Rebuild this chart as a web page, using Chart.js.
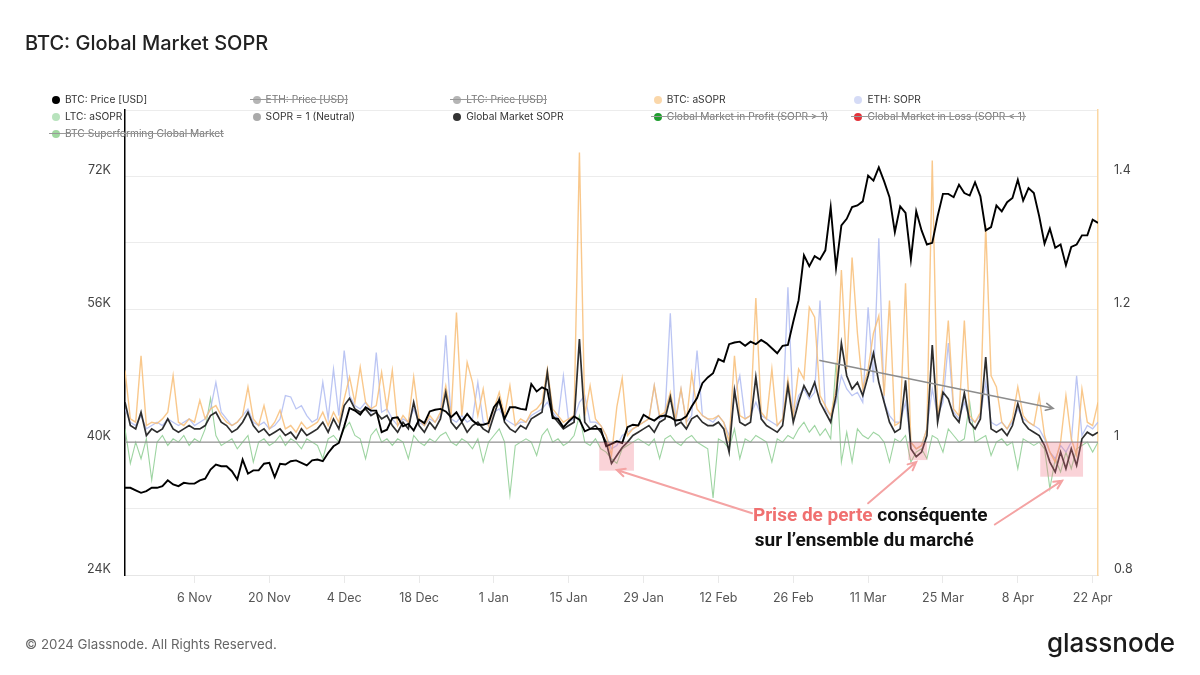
<!DOCTYPE html>
<html>
<head>
<meta charset="utf-8">
<script src="https://cdn.jsdelivr.net/npm/chart.js@4.4.1/dist/chart.umd.min.js"></script>
<style>
html, body { margin: 0; padding: 0; background: #fff; }
#wrap { position: relative; width: 1200px; height: 675px; overflow: hidden; font-family: Inter, "Noto Sans", sans-serif; }
canvas { position: absolute; left: 0; top: 0; }
#title { position: absolute; left: 25px; top: 31px; font-size: 20px; font-weight: 500; color: #222; }
#foot { position: absolute; left: 25px; top: 636px; font-size: 13.3px; color: #666; }
#logo { position: absolute; right: 25px; top: 627px; font-size: 26px; font-weight: 500; color: #1b1b1b; }
.lg { position: absolute; font-size: 10.2px; color: #333; white-space: nowrap; line-height: 14px; }
.lg i { display: inline-block; width: 8px; height: 8px; border-radius: 50%; margin-right: 5px; vertical-align: -0.5px; }
.lg.off { color: #777; }
.lg.off::after { content: ''; position: absolute; left: -3px; right: 0; top: 7px; border-top: 1px solid #999; }
</style>
</head>
<body>
<div id="wrap">
    <canvas id="chart" width="1200" height="675"></canvas>
    <div id="title">BTC: Global Market SOPR</div>
    <div id="legend"></div>
    <div id="foot">© 2024 Glassnode. All Rights Reserved.</div>
    <div id="logo">glassnode</div>
</div>
<script>
// Daily series, day 0 = 24 Oct 2023 ... day 182 = 23 Apr 2024

// BTC: Price [USD], in thousands
var btcPrice = [
    34.5, 34.5, 34.2, 33.9, 34.1, 34.5, 34.5, 34.7, 35.4, 34.9,
    34.7, 35.1, 35.0, 35.0, 35.4, 35.6, 36.7, 37.3, 37.1, 37.1,
    36.5, 35.5, 37.9, 36.2, 36.6, 36.6, 37.4, 37.5, 35.8, 37.4,
    37.3, 37.7, 37.8, 37.5, 37.2, 37.8, 37.9, 37.7, 38.7, 39.5,
    39.9, 41.9, 44.1, 43.8, 43.3, 44.2, 43.8, 43.8, 41.2, 41.5,
    42.9, 43.0, 41.9, 42.2, 41.4, 42.7, 42.3, 43.7, 43.9, 44.0,
    43.7, 43.0, 43.6, 42.5, 43.4, 42.6, 42.1, 42.1, 42.3, 44.2,
    45.0, 42.8, 44.2, 44.2, 44.0, 43.9, 47.0, 46.1, 46.6, 46.3,
    42.9, 42.8, 41.8, 42.5, 43.1, 42.7, 41.3, 41.6, 41.6, 41.6,
    39.5, 39.8, 40.1, 39.9, 41.8, 42.1, 42.0, 43.3, 42.9, 42.6,
    43.1, 43.2, 43.0, 42.6, 42.7, 43.1, 44.3, 45.3, 47.1, 47.8,
    48.3, 50.0, 49.7, 51.8, 52.0, 52.1, 51.6, 52.1, 51.8, 52.3,
    51.9, 51.3, 50.7, 51.6, 51.7, 54.5, 57.1, 62.5, 61.2, 62.4,
    62.0, 63.1, 68.3, 61.0, 66.1, 66.9, 68.3, 68.5, 69.0, 72.1,
    71.5, 73.1, 71.4, 69.5, 65.3, 68.4, 67.6, 62.0, 67.8, 65.5,
    63.8, 64.0, 67.2, 69.9, 69.9, 69.5, 71.0, 70.0, 69.7, 71.3,
    69.6, 65.5, 65.9, 68.5, 67.8, 68.9, 69.4, 71.6, 69.1, 70.6,
    70.0, 67.2, 63.9, 65.7, 63.4, 63.8, 61.3, 63.5, 63.8, 64.9,
    64.9, 66.8, 66.4
];

// Global Market SOPR
var globalSopr = [
    1.060, 1.025, 1.020, 1.045, 1.010, 1.020, 1.015, 1.020, 1.035, 1.020,
    1.015, 1.020, 1.025, 1.020, 1.020, 1.025, 1.040, 1.045, 1.030, 1.025,
    1.015, 1.020, 1.030, 1.045, 1.025, 1.015, 1.020, 1.010, 1.015, 1.020,
    1.010, 1.015, 1.005, 1.020, 1.010, 1.015, 1.020, 1.030, 1.015, 1.035,
    1.020, 1.055, 1.066, 1.050, 1.045, 1.050, 1.040, 1.045, 1.035, 1.040,
    1.025, 1.015, 1.030, 1.020, 1.060, 1.025, 1.015, 1.030, 1.020, 1.035,
    1.075, 1.030, 1.020, 1.030, 1.015, 1.025, 1.030, 1.020, 1.015, 1.040,
    1.065, 1.030, 1.020, 1.015, 1.025, 1.020, 1.035, 1.040, 1.045, 1.105,
    1.040, 1.030, 1.020, 1.025, 1.030, 1.155, 1.030, 1.020, 1.025, 1.015,
    1.000, 0.968, 0.980, 0.992, 1.000, 1.010, 1.015, 1.020, 1.025, 1.015,
    1.030, 1.035, 1.068, 1.025, 1.030, 1.020, 1.035, 1.040, 1.030, 1.025,
    1.025, 1.030, 1.020, 0.985, 1.078, 1.030, 1.025, 1.030, 1.098, 1.035,
    1.025, 1.020, 1.015, 1.025, 1.085, 1.030, 1.060, 1.085, 1.070, 1.090,
    1.060, 1.045, 1.030, 1.070, 1.149, 1.100, 1.080, 1.090, 1.070, 1.100,
    1.134, 1.090, 1.060, 1.030, 1.015, 1.020, 1.093, 0.990, 0.978, 0.985,
    1.010, 1.146, 1.030, 1.075, 1.065, 1.040, 1.030, 1.074, 1.030, 1.020,
    1.035, 1.128, 1.020, 1.015, 1.020, 1.010, 1.025, 1.058, 1.030, 1.020,
    1.015, 1.010, 0.995, 0.970, 0.955, 0.985, 0.960, 0.990, 0.965, 1.005,
    1.015, 1.010, 1.015
];

// BTC: aSOPR
var btcAsopr = [
    1.108, 1.035, 1.030, 1.130, 1.025, 1.030, 1.028, 1.035, 1.045, 1.100,
    1.030, 1.025, 1.035, 1.030, 1.063, 1.035, 1.050, 1.055, 1.040, 1.030,
    1.025, 1.030, 1.040, 1.083, 1.035, 1.025, 1.055, 1.020, 1.030, 1.048,
    1.020, 1.025, 1.015, 1.030, 1.020, 1.025, 1.030, 1.045, 1.025, 1.045,
    1.030, 1.065, 1.098, 1.060, 1.113, 1.060, 1.050, 1.055, 1.105, 1.050,
    1.108, 1.025, 1.040, 1.030, 1.098, 1.035, 1.025, 1.040, 1.030, 1.045,
    1.085, 1.040, 1.195, 1.040, 1.120, 1.090, 1.040, 1.080, 1.025, 1.050,
    1.075, 1.040, 1.085, 1.025, 1.035, 1.030, 1.045, 1.050, 1.060, 1.110,
    1.050, 1.040, 1.030, 1.035, 1.040, 1.436, 1.040, 1.085, 1.035, 1.025,
    1.010, 0.980, 1.053, 1.096, 1.010, 1.020, 1.025, 1.030, 1.035, 1.085,
    1.040, 1.045, 1.075, 1.035, 1.080, 1.030, 1.103, 1.050, 1.040, 1.035,
    1.035, 1.040, 1.030, 1.000, 1.130, 1.040, 1.035, 1.040, 1.217, 1.045,
    1.035, 1.110, 1.025, 1.035, 1.095, 1.040, 1.110, 1.095, 1.203, 1.188,
    1.070, 1.055, 1.040, 1.080, 1.259, 1.110, 1.278, 1.164, 1.080, 1.110,
    1.164, 1.190, 1.070, 1.213, 1.025, 1.030, 1.239, 1.000, 0.990, 0.995,
    1.020, 1.424, 1.040, 1.085, 1.183, 1.050, 1.040, 1.183, 1.040, 1.030,
    1.045, 1.326, 1.100, 1.083, 1.030, 1.020, 1.035, 1.083, 1.040, 1.030,
    1.025, 1.070, 1.010, 0.985, 0.970, 1.000, 1.070, 1.005, 0.980, 1.080,
    1.030, 1.025, 1.060
];

// ETH: SOPR
var ethSopr = [
    1.050, 1.030, 1.025, 1.040, 1.020, 1.025, 1.030, 1.025, 1.035, 1.030,
    1.025, 1.030, 1.035, 1.025, 1.030, 1.035, 1.050, 1.090, 1.045, 1.035,
    1.025, 1.030, 1.040, 1.050, 1.030, 1.025, 1.030, 1.020, 1.025, 1.035,
    1.070, 1.068, 1.050, 1.055, 1.040, 1.030, 1.035, 1.090, 1.035, 1.110,
    1.040, 1.138, 1.070, 1.055, 1.050, 1.060, 1.045, 1.135, 1.045, 1.050,
    1.035, 1.025, 1.035, 1.030, 1.050, 1.030, 1.025, 1.035, 1.030, 1.040,
    1.161, 1.035, 1.030, 1.040, 1.030, 1.035, 1.090, 1.030, 1.025, 1.045,
    1.050, 1.035, 1.030, 1.025, 1.030, 1.030, 1.040, 1.045, 1.050, 1.060,
    1.045, 1.035, 1.100, 1.030, 1.035, 1.060, 1.070, 1.030, 1.030, 1.025,
    1.010, 0.990, 0.995, 1.010, 1.015, 1.020, 1.025, 1.030, 1.035, 1.085,
    1.035, 1.040, 1.194, 1.030, 1.080, 1.030, 1.040, 1.138, 1.040, 1.035,
    1.030, 1.040, 1.030, 1.010, 1.070, 1.100, 1.035, 1.040, 1.060, 1.040,
    1.035, 1.030, 1.025, 1.035, 1.233, 1.040, 1.070, 1.080, 1.065, 1.075,
    1.213, 1.050, 1.040, 1.060, 1.100, 1.080, 1.070, 1.075, 1.060, 1.203,
    1.090, 1.307, 1.060, 1.040, 1.030, 1.030, 1.060, 1.000, 0.990, 0.995,
    1.020, 1.080, 1.040, 1.060, 1.149, 1.045, 1.035, 1.060, 1.035, 1.030,
    1.040, 1.090, 1.030, 1.025, 1.030, 1.020, 1.030, 1.050, 1.035, 1.030,
    1.025, 1.020, 1.005, 0.985, 0.975, 0.995, 0.985, 1.000, 1.100, 1.010,
    1.025, 1.020, 1.030
];

// LTC: aSOPR
var ltcAsopr = [
    1.020, 0.968, 1.000, 0.975, 1.005, 0.943, 1.000, 1.010, 0.995, 1.005,
    1.000, 1.010, 0.995, 1.005, 1.000, 1.020, 1.066, 1.010, 0.995, 1.000,
    1.005, 0.990, 1.000, 1.010, 0.970, 1.000, 1.005, 0.995, 1.000, 1.010,
    0.995, 1.005, 1.000, 0.990, 1.005, 1.000, 0.995, 0.975, 1.005, 1.010,
    1.000, 1.020, 1.030, 1.010, 1.005, 0.975, 1.010, 1.020, 1.000, 1.005,
    0.995, 1.005, 1.000, 0.975, 1.010, 1.000, 0.995, 1.005, 1.000, 1.010,
    1.015, 1.000, 0.995, 1.005, 1.000, 0.990, 1.005, 0.970, 1.000, 1.010,
    1.020, 1.000, 0.920, 0.995, 1.000, 1.005, 1.000, 0.980, 1.010, 1.020,
    1.000, 1.005, 0.995, 1.000, 1.010, 1.040, 1.000, 0.995, 1.005, 0.990,
    0.985, 0.975, 0.968, 0.990, 0.995, 1.000, 1.005, 1.000, 0.995, 1.005,
    0.975, 1.005, 1.010, 1.000, 0.995, 1.005, 1.010, 1.000, 0.995, 0.990,
    0.916, 1.005, 1.000, 0.990, 1.020, 0.975, 1.005, 1.000, 1.010, 1.005,
    1.000, 0.970, 1.005, 1.000, 1.010, 1.005, 1.020, 1.030, 1.015, 1.025,
    1.010, 1.020, 1.005, 1.120, 0.970, 1.015, 0.970, 1.020, 1.010, 1.005,
    1.015, 1.010, 1.000, 0.970, 1.005, 1.000, 1.010, 0.970, 0.985, 0.990,
    0.975, 1.010, 1.005, 0.985, 1.020, 1.010, 1.000, 1.005, 1.060, 1.000,
    1.005, 1.010, 0.980, 1.000, 1.005, 0.995, 1.000, 0.960, 1.005, 1.000,
    0.995, 1.000, 0.990, 0.930, 0.975, 0.955, 0.985, 0.960, 0.990, 0.995,
    1.000, 0.985, 1.000
];

// X axis ticks (day offsets) and their labels
var tickDays = [13, 27, 41, 55, 69, 83, 97, 111, 125, 139, 153, 167, 181];
var tickLabels = ['6 Nov', '20 Nov', '4 Dec', '18 Dec', '1 Jan', '15 Jan', '29 Jan', '12 Feb', '26 Feb', '11 Mar', '25 Mar', '8 Apr', '22 Apr'];

// Left (price) and right (SOPR) axis ticks
var priceTicks = [24000, 40000, 56000, 72000];
var soprTicks = [0.8, 0.9, 1.0, 1.1, 1.2, 1.3, 1.4, 1.5];
var soprLabelled = [0.8, 1.0, 1.2, 1.4];

function toPoints(arr, mult) {
    return arr.map(function(v, i) { return { x: i, y: v * (mult || 1) }; });
}

// Legend
var legendItems = [
    { text: 'BTC: Price [USD]', color: '#000000' },
    { text: 'ETH: Price [USD]', color: '#b5b5b5', off: true },
    { text: 'LTC: Price [USD]', color: '#b5b5b5', off: true },
    { text: 'BTC: aSOPR', color: '#fad7aa' },
    { text: 'ETH: SOPR', color: '#d5dbf6' },
    { text: 'LTC: aSOPR', color: '#b8e3bd' },
    { text: 'SOPR = 1 (Neutral)', color: '#aaaaaa' },
    { text: 'Global Market SOPR', color: '#333333' },
    { text: 'Global Market in Profit (SOPR > 1)', color: '#1f9d2e', off: true },
    { text: 'Global Market in Loss (SOPR < 1)', color: '#e3323a', off: true },
    { text: 'BTC Superforming Global Market', color: '#9fd79f', off: true }
];
var legendEl = document.getElementById('legend');
legendItems.forEach(function(item, i) {
    var div = document.createElement('div');
    div.className = 'lg' + (item.off ? ' off' : '');
    div.style.left = (52 + (i % 5) * 200.6) + 'px';
    div.style.top = (92 + Math.floor(i / 5) * 17) + 'px';
    div.innerHTML = '<i style="background:' + item.color + '"></i>' + item.text.replace(/</g, '&lt;');
    legendEl.appendChild(div);
});

// Annotations in data coordinates (day, SOPR)
var lossBoxes = [[88.7, 95.2, 0.957], [146.5, 150.0, 0.973], [171.2, 179.2, 0.948]];
var pinkArrows = [[117.3, 0.893, 92.0, 0.958], [139.0, 0.908, 148.0, 0.970], [162.7, 0.876, 175.3, 0.942]];
var trendArrow = [130.0, 1.123, 173.6, 1.051];

function drawArrow(ctx, x1, y1, x2, y2, color, width, head) {
    var a = Math.atan2(y2 - y1, x2 - x1);
    ctx.save();
    ctx.strokeStyle = color;
    ctx.lineWidth = width;
    ctx.lineCap = 'round';
    ctx.beginPath();
    ctx.moveTo(x1, y1);
    ctx.lineTo(x2, y2);
    ctx.moveTo(x2 - head * Math.cos(a - 0.45), y2 - head * Math.sin(a - 0.45));
    ctx.lineTo(x2, y2);
    ctx.lineTo(x2 - head * Math.cos(a + 0.45), y2 - head * Math.sin(a + 0.45));
    ctx.stroke();
    ctx.restore();
}

var annotationPlugin = {
    id: 'annotations',
    afterDatasetsDraw: function(chart) {
        var ctx = chart.ctx;
        var xs = chart.scales.x;
        var ys = chart.scales.y1;
        ctx.save();
        ctx.fillStyle = 'rgba(240, 110, 125, 0.3)';
        lossBoxes.forEach(function(b) {
            var x1 = xs.getPixelForValue(b[0]);
            var x2 = xs.getPixelForValue(b[1]);
            var y1 = ys.getPixelForValue(1.0);
            var y2 = ys.getPixelForValue(b[2]);
            ctx.fillRect(x1, y1, x2 - x1, y2 - y1);
        });
        ctx.restore();

        pinkArrows.forEach(function(p) {
            drawArrow(ctx, xs.getPixelForValue(p[0]), ys.getPixelForValue(p[1]),
                xs.getPixelForValue(p[2]), ys.getPixelForValue(p[3]), '#f4a3a3', 2, 9);
        });
        drawArrow(ctx, xs.getPixelForValue(trendArrow[0]), ys.getPixelForValue(trendArrow[1]),
            xs.getPixelForValue(trendArrow[2]), ys.getPixelForValue(trendArrow[3]), '#8c8c8c', 1.6, 8);

        // Text
        ctx.save();
        ctx.font = 'bold 19px Roboto';
        ctx.textBaseline = 'middle';
        var cx = xs.getPixelForValue(139.4);
        var red = 'Prise de perte';
        var rest = ' conséquente';
        var w1 = ctx.measureText(red).width;
        var w2 = ctx.measureText(rest).width;
        var start = cx - (w1 + w2) / 2;
        var ty = ys.getPixelForValue(0.888);
        ctx.textAlign = 'left';
        ctx.fillStyle = '#f07070';
        ctx.fillText(red, start, ty);
        ctx.fillStyle = '#111111';
        ctx.fillText(rest, start + w1, ty);
        ctx.textAlign = 'center';
        ctx.fillText('sur l\u2019ensemble du marché', cx - 6, ys.getPixelForValue(0.851));
        ctx.restore();
    }
};

var tickFont = { family: 'Inter', size: 12.5 };

var chart = new Chart(document.getElementById('chart').getContext('2d'), {
    type: 'line',
    data: {
        datasets: [
            {
                label: 'BTC: Price [USD]',
                data: toPoints(btcPrice, 1000),
                yAxisID: 'y',
                borderColor: '#000000',
                borderWidth: 1.9,
                order: 0
            },
            {
                label: 'Global Market SOPR',
                data: toPoints(globalSopr),
                yAxisID: 'y1',
                borderColor: 'rgba(35, 35, 35, 0.95)',
                borderWidth: 1.7,
                order: 1
            },
            {
                label: 'SOPR = 1 (Neutral)',
                data: [{ x: 0, y: 1 }, { x: 182, y: 1 }],
                yAxisID: 'y1',
                borderColor: '#949494',
                borderWidth: 1.4,
                order: 2
            },
            {
                label: 'ETH: SOPR',
                data: toPoints(ethSopr),
                yAxisID: 'y1',
                borderColor: 'rgba(170, 182, 240, 0.8)',
                borderWidth: 1.3,
                order: 4
            },
            {
                label: 'BTC: aSOPR',
                data: toPoints(btcAsopr),
                yAxisID: 'y1',
                borderColor: 'rgba(248, 190, 120, 0.85)',
                borderWidth: 1.4,
                order: 3
            },
            {
                label: 'LTC: aSOPR',
                data: toPoints(ltcAsopr),
                yAxisID: 'y1',
                borderColor: 'rgba(140, 205, 145, 0.85)',
                borderWidth: 1.1,
                order: 5
            }
        ]
    },
    options: {
        responsive: false,
        animation: false,
        events: [],
        elements: {
            point: { radius: 0 },
            line: { tension: 0 }
        },
        layout: { padding: { top: 110, left: 0, right: 0, bottom: 0 } },
        plugins: {
            legend: { display: false },
            tooltip: { enabled: false }
        },
        scales: {
            x: {
                type: 'linear',
                min: 0,
                max: 182,
                afterFit: function(scale) { scale.height = 100; },
                afterBuildTicks: function(scale) {
                    scale.ticks = tickDays.map(function(d) { return { value: d }; });
                },
                grid: { drawOnChartArea: false, drawTicks: true, tickLength: 8, color: '#e9e9e9' },
                border: { color: '#e6e6e6' },
                ticks: {
                    autoSkip: false,
                    maxRotation: 0,
                    padding: 8,
                    color: '#555',
                    font: tickFont,
                    callback: function(value) {
                        var i = tickDays.indexOf(value);
                        return i >= 0 ? tickLabels[i] : '';
                    }
                }
            },
            y: {
                position: 'left',
                min: 24000,
                max: 80000,
                afterFit: function(scale) { scale.width = 125; },
                afterBuildTicks: function(scale) {
                    scale.ticks = priceTicks.map(function(v) { return { value: v }; });
                },
                grid: { display: false },
                border: { color: '#000000', width: 1.5 },
                ticks: {
                    padding: 6,
                    labelOffset: -6,
                    color: '#444',
                    font: tickFont,
                    callback: function(value) { return (value / 1000) + 'K'; }
                }
            },
            y1: {
                position: 'right',
                min: 0.8,
                max: 1.5,
                afterFit: function(scale) { scale.width = 102; },
                afterBuildTicks: function(scale) {
                    scale.ticks = soprTicks.map(function(v) { return { value: v }; });
                },
                grid: { color: '#ececec', drawTicks: false },
                border: { color: '#fbd7a3', width: 1.5 },
                ticks: {
                    padding: 16,
                    labelOffset: -6,
                    color: '#444',
                    font: tickFont,
                    callback: function(value) {
                        var hit = soprLabelled.some(function(v) { return Math.abs(v - value) < 1e-6; });
                        if (!hit) return '';
                        return Math.abs(value - 1) < 1e-6 ? '1' : value.toFixed(1);
                    }
                }
            }
        }
    },
    plugins: [annotationPlugin]
});
</script>
</body>
</html>
